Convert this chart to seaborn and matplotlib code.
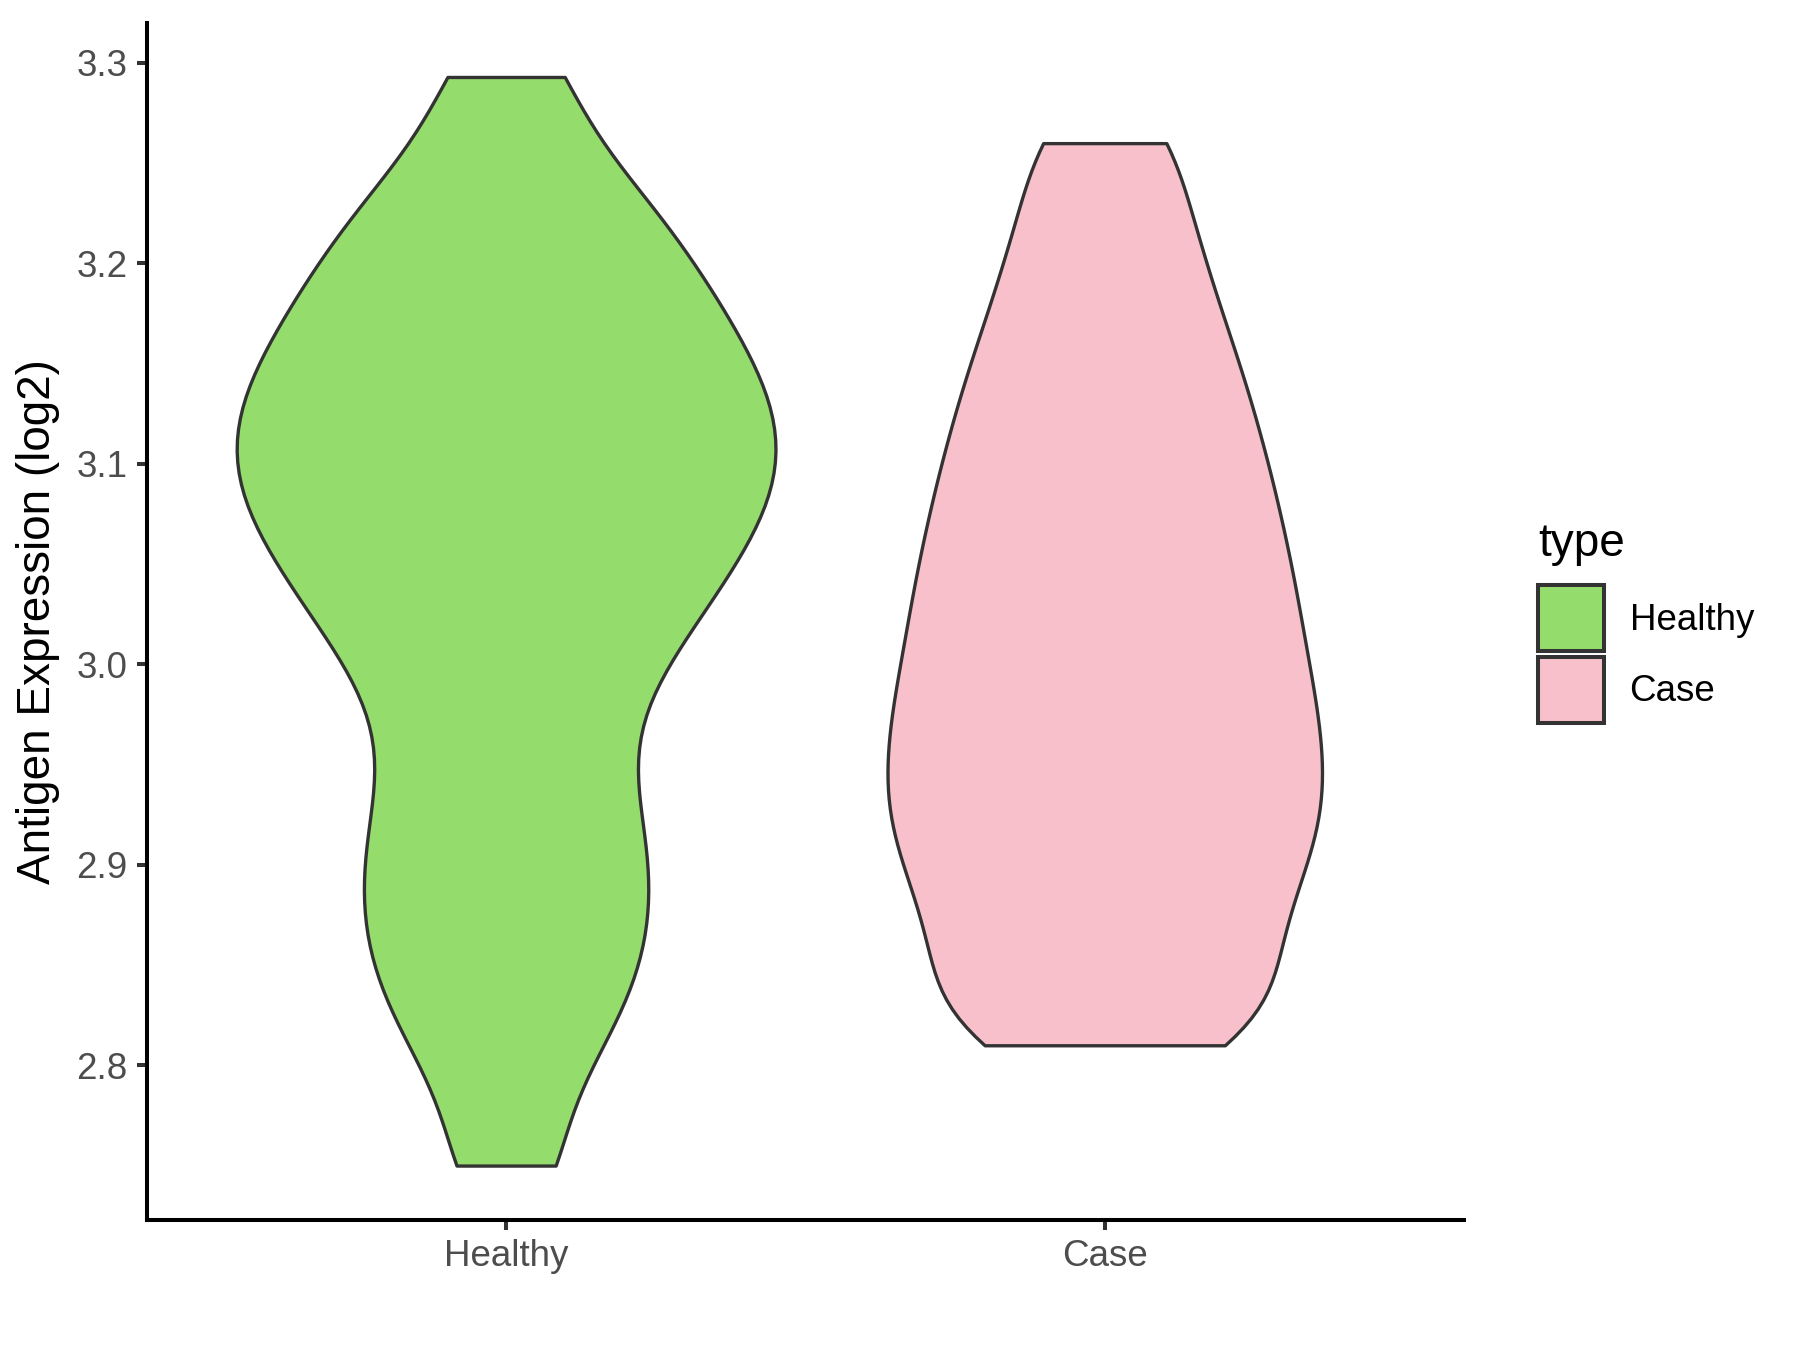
import numpy as np
import pandas as pd
import matplotlib
matplotlib.use("Agg")
import matplotlib.pyplot as plt
import seaborn as sns
from matplotlib.patches import Patch

# valores (log2)
grupos = ["Healthy", "Case"]
cores = ["#94DC6B", "#F7C0CB"]
healthy = [2.750, 2.800, 2.828, 2.850, 2.870, 2.890, 2.910, 2.930, 2.955, 2.979,
           3.001, 3.017, 3.032, 3.046, 3.058, 3.070, 3.081, 3.091, 3.102, 3.112,
           3.122, 3.133, 3.144, 3.155, 3.168, 3.181, 3.195, 3.212, 3.228, 3.251,
           3.293]
case = [2.810, 2.821, 2.841, 2.860, 2.878, 2.895, 2.910, 2.924, 2.938, 2.952,
        2.967, 2.981, 2.996, 3.012, 3.028, 3.044, 3.061, 3.079, 3.097, 3.117,
        3.138, 3.161, 3.188, 3.220, 3.260]
yticks = [2.8, 2.9, 3.0, 3.1, 3.2, 3.3]

df = pd.DataFrame({
    "type": ["Healthy"] * len(healthy) + ["Case"] * len(case),
    "expr": healthy + case,
})

sns.set_theme(style="ticks")
plt.rcParams["font.family"] = ["Liberation Sans", "DejaVu Sans"]

fig = plt.figure(figsize=(18, 13.5), dpi=100)
ax = fig.add_axes([0.0816, 0.0963, 0.7317, 0.887])

sns.violinplot(
    data=df, x="type", y="expr", hue="type", order=grupos, hue_order=grupos,
    palette=cores, saturation=1, cut=0, inner=None,
    density_norm="count", common_norm=True, width=0.9,
    linecolor="#333333", linewidth=2.4, bw_adjust=0.45, legend=False, ax=ax,
)

# limites no estilo ggplot (expansão de 5%)
lo, hi = min(df["expr"]), max(df["expr"])
pad = 0.05 * (hi - lo)
ax.set_ylim(lo - pad, hi + pad)
ax.set_xlim(-0.6, 1.6)
ax.set_yticks(yticks)
ax.set_yticklabels([f"{v:.1f}" for v in yticks])

ax.set_xlabel("")
ax.set_ylabel("Antigen Expression (log2)", fontsize=33, color="black", labelpad=12)

for lado in ["top", "right"]:
    ax.spines[lado].set_visible(False)
for lado in ["left", "bottom"]:
    ax.spines[lado].set_color("black")
    ax.spines[lado].set_linewidth(2.9)
ax.tick_params(axis="both", labelsize=26.5, labelcolor="#4D4D4D", color="#333333",
               length=7, width=2.9, pad=7)

handles = [Patch(facecolor=c, edgecolor="#333333", linewidth=2.9, label=g)
           for g, c in zip(grupos, cores)]
leg = fig.legend(handles=handles, title="type", loc="center left",
                 bbox_to_anchor=(0.8444, 0.539), frameon=False, fontsize=26.5,
                 title_fontsize=33, handlelength=1.79, handleheight=2.38,
                 labelspacing=0.16, handletextpad=0.69, borderpad=0,
                 alignment="left", labelcolor="black")
leg.get_title().set_color("black")
# mais espaço entre o título e as caixas
leg._legend_box.sep = 0.16 * 26.5 + 10

fig.savefig("out.png", dpi=100)
